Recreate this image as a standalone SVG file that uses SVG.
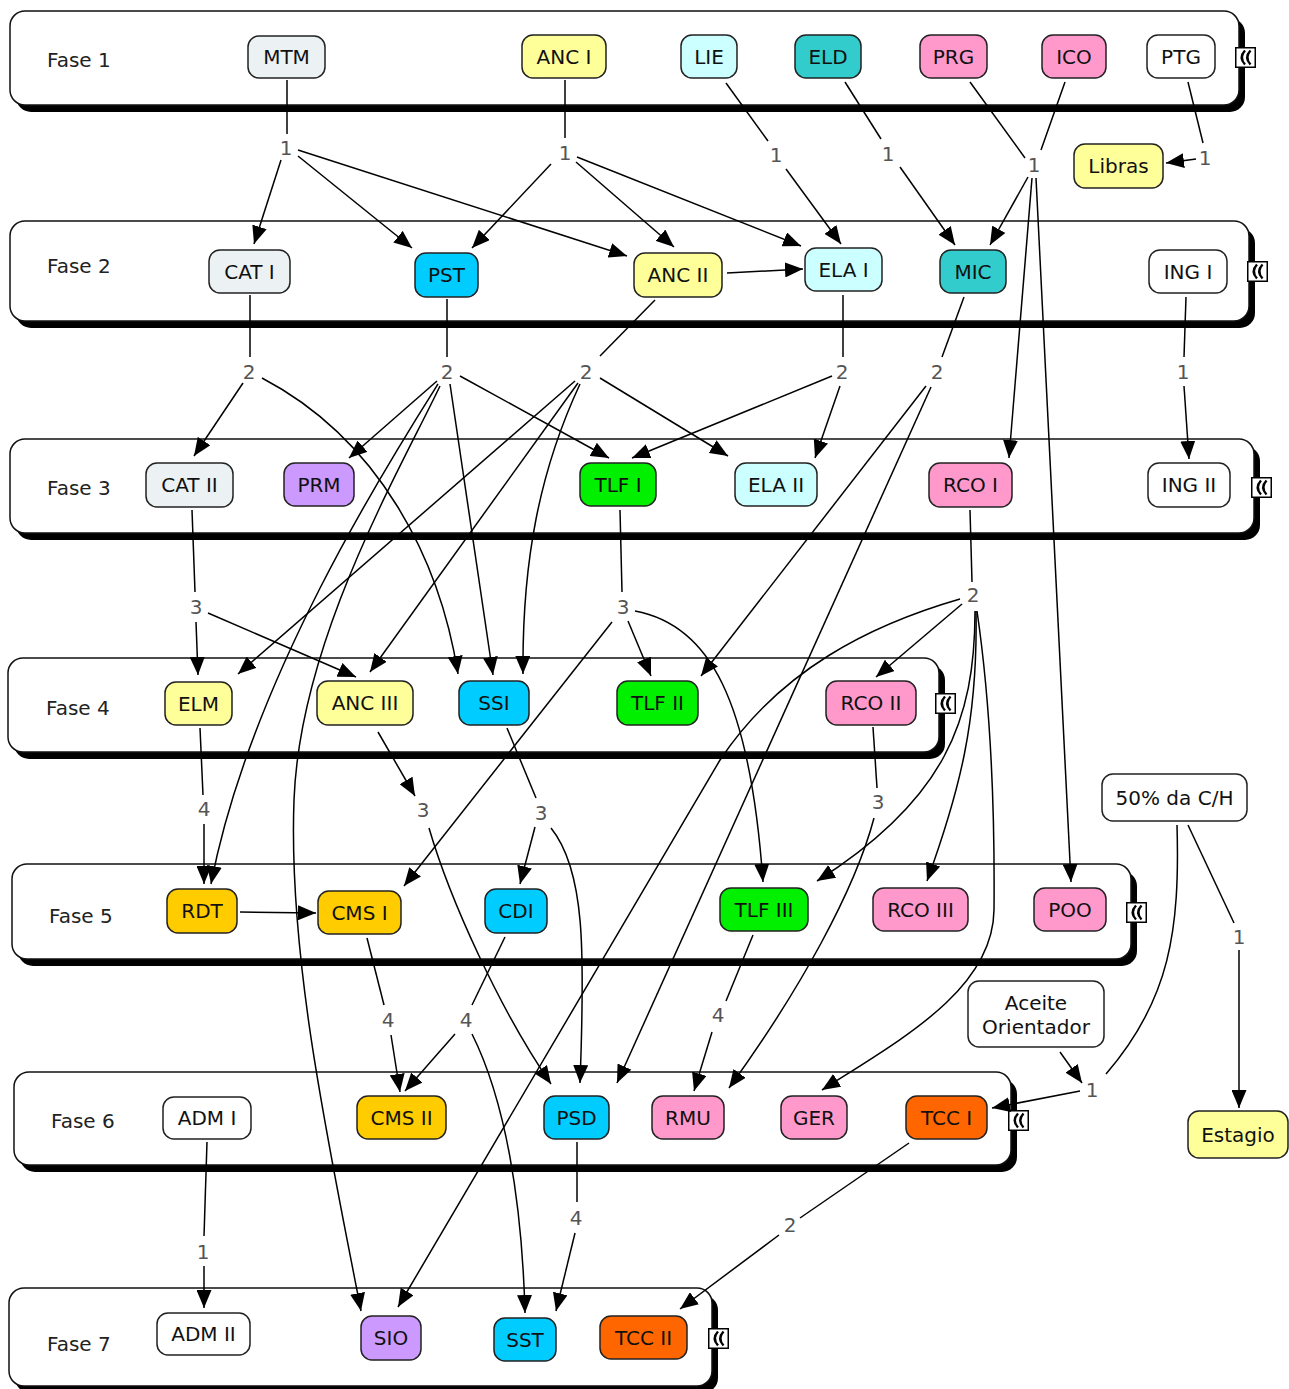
<svg xmlns="http://www.w3.org/2000/svg" width="1289" height="1389" viewBox="0 0 1289 1389">
<style>
.bg{fill:#fff}
.ph{fill:#fff;stroke:#111;stroke-width:1.5}
.sh{fill:#000}
.pl{font-family:'DejaVu Sans','Liberation Sans',sans-serif;font-size:20px;fill:#222}
.nd{stroke:#222;stroke-width:1.5}
.t{font-family:'DejaVu Sans','Liberation Sans',sans-serif;font-size:20px;fill:#111;text-anchor:middle}
.lp{font-family:'DejaVu Sans','Liberation Sans',sans-serif;font-size:20px;fill:#555;text-anchor:middle}
.ln{fill:none;stroke:#000;stroke-width:1.5}
.ar{fill:none;stroke:#000;stroke-width:1.5;marker-end:url(#ah)}
.gray{fill:#ECF2F4}.yel{fill:#FFFF99}.lcy{fill:#CCFFFF}.teal{fill:#33CCCC}.pink{fill:#FF99CC}.blue{fill:#00CCFF}.purp{fill:#CC99FF}.grn{fill:#00F000}.gold{fill:#FFCC00}.orng{fill:#FF6600}.wht{fill:#fff}
</style>
<defs>
<marker id="ah" viewBox="0 0 18 15" refX="18" refY="7.5" markerWidth="18" markerHeight="15" markerUnits="userSpaceOnUse" orient="auto">
<path d="M0,0 L18,7.5 L0,15 Z" fill="#000"/>
</marker>
<symbol id="col" viewBox="0 0 21 21" overflow="visible">
<rect x="0.75" y="0.75" width="19.5" height="19.5" fill="#fff" stroke="#000" stroke-width="1.5"/>
<path d="M10,3.5 Q3.5,10.5 10,17.5 M15.5,3.5 Q9,10.5 15.5,17.5" fill="none" stroke="#000" stroke-width="2.4"/>
</symbol>
</defs>
<rect class="bg" x="0" y="0" width="1289" height="1389"/>

<g id="fases">
<g id="fase1"><rect class="sh" x="16" y="18" width="1229" height="94" rx="15"/><rect class="ph" x="10" y="11" width="1229" height="94" rx="15"/><text class="pl" x="47" y="67">Fase 1</text><use href="#col" x="1235" y="47" width="21" height="21"/></g>
<g id="fase2"><rect class="sh" x="16" y="228" width="1239" height="100" rx="15"/><rect class="ph" x="10" y="221" width="1239" height="100" rx="15"/><text class="pl" x="47" y="273">Fase 2</text><use href="#col" x="1247" y="261" width="21" height="21"/></g>
<g id="fase3"><rect class="sh" x="16" y="446" width="1244" height="94" rx="15"/><rect class="ph" x="10" y="439" width="1244" height="94" rx="15"/><text class="pl" x="47" y="495">Fase 3</text><use href="#col" x="1251" y="477" width="21" height="21"/></g>
<g id="fase4"><rect class="sh" x="14" y="665" width="931" height="94" rx="15"/><rect class="ph" x="8" y="658" width="931" height="94" rx="15"/><text class="pl" x="46" y="715">Fase 4</text><use href="#col" x="935" y="693" width="21" height="21"/></g>
<g id="fase5"><rect class="sh" x="18" y="871" width="1119" height="95" rx="15"/><rect class="ph" x="12" y="864" width="1119" height="95" rx="15"/><text class="pl" x="49" y="923">Fase 5</text><use href="#col" x="1126" y="902" width="21" height="21"/></g>
<g id="fase6"><rect class="sh" x="20" y="1079" width="997" height="93" rx="15"/><rect class="ph" x="14" y="1072" width="997" height="93" rx="15"/><text class="pl" x="51" y="1128">Fase 6</text><use href="#col" x="1008" y="1110" width="21" height="21"/></g>
<g id="fase7"><rect class="sh" x="15" y="1295" width="703" height="98" rx="15"/><rect class="ph" x="9" y="1288" width="703" height="98" rx="15"/><text class="pl" x="47" y="1351">Fase 7</text><use href="#col" x="708" y="1328" width="21" height="21"/></g>
</g>

<g id="connectors">
<path class="ln" d="M287,80 L287,134"/>
<path class="ar" d="M281,160 L254,244"/>
<path class="ar" d="M298,156 L412,248"/>
<path class="ar" d="M298,150 L627,256"/>
<path class="ln" d="M565,80 L565,138"/>
<path class="ar" d="M551,164 L472,248"/>
<path class="ar" d="M576,162 L674,247"/>
<path class="ar" d="M577,157 L801,246"/>
<path class="ln" d="M726,83 L768,141"/>
<path class="ar" d="M786,169 L841,244"/>
<path class="ln" d="M845,82 L881,139"/>
<path class="ar" d="M900,167 L955,245"/>
<path class="ln" d="M970,82 L1025,158"/>
<path class="ln" d="M1065,82 L1041,150"/>
<path class="ar" d="M1028,177 L990,245"/>
<path class="ar" d="M1032,178 L1009,458"/>
<path class="ar" d="M1036,178 L1071,882"/>
<path class="ln" d="M1188,82 L1203,143"/>
<path class="ar" d="M1196,159 L1166,163"/>
<path class="ar" d="M727,273 L803,269"/>
<path class="ln" d="M250,295 L250,357"/>
<path class="ar" d="M243,383 L194,456"/>
<path class="ar" d="M262,378 C380,440 440,560 458,674"/>
<path class="ln" d="M447,299 L447,357"/>
<path class="ar" d="M437,381 L349,458"/>
<path class="ar" d="M460,376 L609,458"/>
<path class="ar" d="M450,384 L493,675"/>
<path class="ar" d="M438,384 C390,460 250,680 211,884"/>
<path class="ar" d="M440,386 C400,470 300,640 294,800 C288,960 330,1150 361,1311"/>
<path class="ln" d="M655,300 L600,356"/>
<path class="ar" d="M600,378 L728,456"/>
<path class="ar" d="M575,381 L238,674"/>
<path class="ar" d="M578,383 L370,672"/>
<path class="ar" d="M580,384 C540,470 522,560 523,674"/>
<path class="ln" d="M843,295 L843,357"/>
<path class="ar" d="M832,376 L632,458"/>
<path class="ar" d="M840,386 L815,458"/>
<path class="ln" d="M964,297 L942,357"/>
<path class="ar" d="M926,386 L701,676"/>
<path class="ar" d="M931,387 L617,1083"/>
<path class="ln" d="M1186,297 L1184,357"/>
<path class="ar" d="M1184,386 L1189,459"/>
<path class="ln" d="M192,510 L195,592"/>
<path class="ar" d="M196,622 L198,675"/>
<path class="ar" d="M208,613 L356,677"/>
<path class="ln" d="M620,510 L622,592"/>
<path class="ar" d="M628,621 L651,676"/>
<path class="ar" d="M612,622 L404,886"/>
<path class="ar" d="M635,611 C710,625 750,700 763,882"/>
<path class="ln" d="M970,510 L972,582"/>
<path class="ar" d="M962,604 L876,677"/>
<path class="ar" d="M960,599 C870,625 780,670 720,760 L398,1307"/>
<path class="ar" d="M975,611 C975,720 945,800 817,881"/>
<path class="ar" d="M976,611 C978,720 960,790 927,881"/>
<path class="ar" d="M977,611 C990,700 995,800 994,910 C993,990 900,1040 822,1090"/>
<path class="ln" d="M873,727 L877,788"/>
<path class="ar" d="M874,818 C855,890 800,990 729,1088"/>
<path class="ln" d="M200,728 L203,795"/>
<path class="ar" d="M204,824 L204,884"/>
<path class="ar" d="M378,732 L415,796"/>
<path class="ar" d="M429,828 C450,900 500,1010 551,1084"/>
<path class="ln" d="M507,728 L536,798"/>
<path class="ar" d="M535,827 L520,884"/>
<path class="ar" d="M551,828 C585,870 585,950 580,1083"/>
<path class="ar" d="M240,912 L316,913"/>
<path class="ln" d="M367,938 L384,1005"/>
<path class="ar" d="M391,1035 L400,1092"/>
<path class="ln" d="M505,937 L472,1005"/>
<path class="ar" d="M455,1034 L405,1091"/>
<path class="ar" d="M472,1034 C505,1100 522,1200 525,1313"/>
<path class="ln" d="M753,935 L726,1001"/>
<path class="ar" d="M712,1032 L694,1091"/>
<path class="ln" d="M1177,825 C1180,930 1170,1000 1106,1074"/>
<path class="ln" d="M1188,825 L1234,923"/>
<path class="ar" d="M1239,950 L1239,1108"/>
<path class="ar" d="M1060,1052 L1082,1083"/>
<path class="ar" d="M1080,1091 L992,1108"/>
<path class="ln" d="M207,1142 L204,1236"/>
<path class="ar" d="M204,1266 L204,1308"/>
<path class="ln" d="M577,1142 L577,1202"/>
<path class="ar" d="M575,1233 L556,1311"/>
<path class="ln" d="M909,1143 L800,1218"/>
<path class="ar" d="M779,1235 L680,1309"/>
</g>

<g id="labels">
<text class="lp" x="286" y="155">1</text>
<text class="lp" x="565" y="160">1</text>
<text class="lp" x="776" y="162">1</text>
<text class="lp" x="888" y="161">1</text>
<text class="lp" x="1034" y="172">1</text>
<text class="lp" x="1205" y="165">1</text>
<text class="lp" x="249" y="379">2</text>
<text class="lp" x="447" y="379">2</text>
<text class="lp" x="586" y="379">2</text>
<text class="lp" x="842" y="379">2</text>
<text class="lp" x="937" y="379">2</text>
<text class="lp" x="1183" y="379">1</text>
<text class="lp" x="196" y="614">3</text>
<text class="lp" x="623" y="614">3</text>
<text class="lp" x="973" y="602">2</text>
<text class="lp" x="204" y="816">4</text>
<text class="lp" x="423" y="817">3</text>
<text class="lp" x="541" y="820">3</text>
<text class="lp" x="878" y="809">3</text>
<text class="lp" x="1239" y="944">1</text>
<text class="lp" x="388" y="1027">4</text>
<text class="lp" x="466" y="1027">4</text>
<text class="lp" x="718" y="1022">4</text>
<text class="lp" x="1092" y="1097">1</text>
<text class="lp" x="203" y="1259">1</text>
<text class="lp" x="576" y="1225">4</text>
<text class="lp" x="790" y="1232">2</text>
</g>

<g id="nodes">
<g id="MTM"><rect class="nd gray" x="248" y="36" width="77" height="42" rx="11"/><text class="t" x="286.5" y="64">MTM</text></g>
<g id="ANC_I"><rect class="nd yel" x="522" y="35" width="84" height="43" rx="11"/><text class="t" x="564" y="63.5">ANC I</text></g>
<g id="LIE"><rect class="nd lcy" x="681" y="35" width="56" height="43" rx="11"/><text class="t" x="709" y="63.5">LIE</text></g>
<g id="ELD"><rect class="nd teal" x="795" y="35" width="66" height="43" rx="11"/><text class="t" x="828" y="63.5">ELD</text></g>
<g id="PRG"><rect class="nd pink" x="920" y="35" width="67" height="43" rx="11"/><text class="t" x="953.5" y="63.5">PRG</text></g>
<g id="ICO"><rect class="nd pink" x="1042" y="35" width="64" height="43" rx="11"/><text class="t" x="1074" y="63.5">ICO</text></g>
<g id="PTG"><rect class="nd wht" x="1147" y="35" width="68" height="43" rx="11"/><text class="t" x="1181" y="63.5">PTG</text></g>
<g id="Libras"><rect class="nd yel" x="1074" y="144" width="89" height="44" rx="11"/><text class="t" x="1118.5" y="173">Libras</text></g>

<g id="CAT_I"><rect class="nd gray" x="209" y="250" width="81" height="43" rx="11"/><text class="t" x="249.5" y="278.5">CAT I</text></g>
<g id="PST"><rect class="nd blue" x="415" y="253" width="63" height="44" rx="11"/><text class="t" x="446.5" y="282">PST</text></g>
<g id="ANC_II"><rect class="nd yel" x="634" y="253" width="88" height="44" rx="11"/><text class="t" x="678" y="282">ANC II</text></g>
<g id="ELA_I"><rect class="nd lcy" x="805" y="248" width="77" height="43" rx="11"/><text class="t" x="843.5" y="276.5">ELA I</text></g>
<g id="MIC"><rect class="nd teal" x="940" y="250" width="66" height="43" rx="11"/><text class="t" x="973" y="278.5">MIC</text></g>
<g id="ING_I"><rect class="nd wht" x="1149" y="250" width="78" height="43" rx="11"/><text class="t" x="1188" y="278.5">ING I</text></g>

<g id="CAT_II"><rect class="nd gray" x="146" y="463" width="87" height="44" rx="11"/><text class="t" x="189.5" y="492">CAT II</text></g>
<g id="PRM"><rect class="nd purp" x="284" y="463" width="70" height="43" rx="11"/><text class="t" x="319" y="491.5">PRM</text></g>
<g id="TLF_I"><rect class="nd grn" x="580" y="463" width="76" height="43" rx="11"/><text class="t" x="618" y="491.5">TLF I</text></g>
<g id="ELA_II"><rect class="nd lcy" x="735" y="463" width="82" height="43" rx="11"/><text class="t" x="776" y="491.5">ELA II</text></g>
<g id="RCO_I"><rect class="nd pink" x="929" y="463" width="83" height="44" rx="11"/><text class="t" x="970.5" y="492">RCO I</text></g>
<g id="ING_II"><rect class="nd wht" x="1148" y="463" width="82" height="44" rx="11"/><text class="t" x="1189" y="492">ING II</text></g>

<g id="ELM"><rect class="nd yel" x="165" y="682" width="67" height="43" rx="11"/><text class="t" x="198.5" y="710.5">ELM</text></g>
<g id="ANC_III"><rect class="nd yel" x="317" y="681" width="96" height="44" rx="11"/><text class="t" x="365" y="710">ANC III</text></g>
<g id="SSI"><rect class="nd blue" x="459" y="681" width="70" height="44" rx="11"/><text class="t" x="494" y="710">SSI</text></g>
<g id="TLF_II"><rect class="nd grn" x="617" y="681" width="81" height="44" rx="11"/><text class="t" x="657.5" y="710">TLF II</text></g>
<g id="RCO_II"><rect class="nd pink" x="826" y="681" width="90" height="44" rx="11"/><text class="t" x="871" y="710">RCO II</text></g>

<g id="RDT"><rect class="nd gold" x="167" y="889" width="70" height="44" rx="11"/><text class="t" x="202" y="918">RDT</text></g>
<g id="CMS_I"><rect class="nd gold" x="318" y="891" width="83" height="43" rx="11"/><text class="t" x="359.5" y="919.5">CMS I</text></g>
<g id="CDI"><rect class="nd blue" x="485" y="889" width="62" height="44" rx="11"/><text class="t" x="516" y="918">CDI</text></g>
<g id="TLF_III"><rect class="nd grn" x="720" y="888" width="88" height="43" rx="11"/><text class="t" x="764" y="916.5">TLF III</text></g>
<g id="RCO_III"><rect class="nd pink" x="873" y="888" width="95" height="43" rx="11"/><text class="t" x="920.5" y="916.5">RCO III</text></g>
<g id="POO"><rect class="nd pink" x="1034" y="888" width="72" height="43" rx="11"/><text class="t" x="1070" y="916.5">POO</text></g>
<g id="CH50"><rect class="nd wht" x="1102" y="774" width="145" height="47" rx="11"/><text class="t" x="1174.5" y="804.5">50% da C/H</text></g>
<g id="Aceite"><rect class="nd wht" x="968" y="981" width="136" height="66" rx="11"/><text class="t" x="1036" y="1010">Aceite</text><text class="t" x="1036" y="1034">Orientador</text></g>

<g id="ADM_I"><rect class="nd wht" x="163" y="1097" width="88" height="42" rx="11"/><text class="t" x="207" y="1125">ADM I</text></g>
<g id="CMS_II"><rect class="nd gold" x="357" y="1096" width="89" height="43" rx="11"/><text class="t" x="401.5" y="1124.5">CMS II</text></g>
<g id="PSD"><rect class="nd blue" x="544" y="1096" width="65" height="43" rx="11"/><text class="t" x="576.5" y="1124.5">PSD</text></g>
<g id="RMU"><rect class="nd pink" x="652" y="1096" width="72" height="43" rx="11"/><text class="t" x="688" y="1124.5">RMU</text></g>
<g id="GER"><rect class="nd pink" x="781" y="1096" width="66" height="43" rx="11"/><text class="t" x="814" y="1124.5">GER</text></g>
<g id="TCC_I"><rect class="nd orng" x="906" y="1096" width="81" height="43" rx="11"/><text class="t" x="946.5" y="1124.5">TCC I</text></g>
<g id="Estagio"><rect class="nd yel" x="1188" y="1111" width="100" height="47" rx="11"/><text class="t" x="1238" y="1141.5">Estagio</text></g>

<g id="ADM_II"><rect class="nd wht" x="157" y="1313" width="93" height="42" rx="11"/><text class="t" x="203.5" y="1341">ADM II</text></g>
<g id="SIO"><rect class="nd purp" x="361" y="1316" width="60" height="44" rx="11"/><text class="t" x="391" y="1345">SIO</text></g>
<g id="SST"><rect class="nd blue" x="494" y="1318" width="62" height="43" rx="11"/><text class="t" x="525" y="1346.5">SST</text></g>
<g id="TCC_II"><rect class="nd orng" x="600" y="1316" width="87" height="43" rx="11"/><text class="t" x="643.5" y="1344.5">TCC II</text></g>
</g>
</svg>
